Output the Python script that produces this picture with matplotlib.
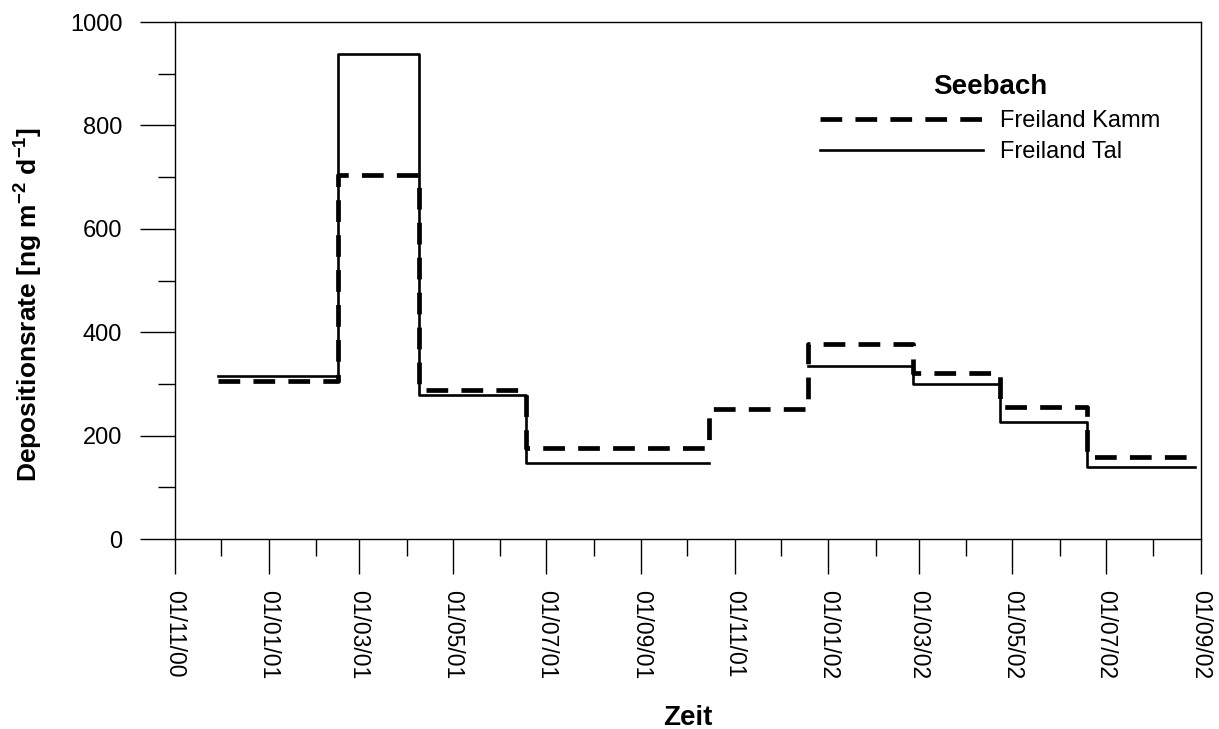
import datetime as dt

import matplotlib
matplotlib.use('Agg')
import matplotlib.pyplot as plt
import matplotlib.dates as mdates
import numpy as np

plt.rcParams['font.family'] = ['Liberation Sans', 'DejaVu Sans']
plt.rcParams['mathtext.fontset'] = 'custom'
plt.rcParams['mathtext.rm'] = 'Liberation Sans'
plt.rcParams['mathtext.bf'] = 'Liberation Sans:bold'

# sampling period boundaries (start of each period, last entry = end)
edges = [
    dt.date(2000, 11, 29), dt.date(2001, 2, 15), dt.date(2001, 4, 9),
    dt.date(2001, 6, 18), dt.date(2001, 10, 15), dt.date(2001, 12, 19),
    dt.date(2002, 2, 25), dt.date(2002, 4, 23), dt.date(2002, 6, 19),
    dt.date(2002, 8, 28),
]
kamm = [305, 705, 289, 176, 252, 377, 321, 255, 159]
tal = [316, 939, 278, 147, np.nan, 334, 299, 226, 140]

fig = plt.figure(figsize=(12.19, 7.29), dpi=100)
ax = fig.add_axes([0.1436, 0.2606, 0.8416, 0.7092])

ax.plot(edges, kamm + [kamm[-1]], drawstyle='steps-post', color='black',
        lw=3.4, dashes=(4.6, 2.8), label='Freiland Kamm')
ax.plot(edges, tal + [tal[-1]], drawstyle='steps-post', color='black',
        lw=1.9, label='Freiland Tal')

ax.set_xlim(dt.date(2000, 11, 1), dt.date(2002, 9, 1))
ax.set_ylim(0, 1000)

ax.xaxis.set_major_locator(mdates.MonthLocator(bymonth=[1, 3, 5, 7, 9, 11]))
ax.xaxis.set_minor_locator(mdates.MonthLocator())
ax.xaxis.set_major_formatter(mdates.DateFormatter('%d/%m/%y'))
ax.yaxis.set_major_locator(plt.MultipleLocator(200))
ax.yaxis.set_minor_locator(plt.MultipleLocator(100))

ax.tick_params(which='major', direction='out', length=25, width=1.0,
               color='black')
ax.tick_params(which='minor', direction='out', length=12.5, width=1.0)
ax.tick_params(axis='x', which='major', pad=11.5, labelsize=16.5)
ax.tick_params(axis='y', which='major', pad=13, labelsize=17)
plt.setp(ax.get_xticklabels(), rotation=270, va='top', ha='center')
for s in ax.spines.values():
    s.set_linewidth(1.0)

ax.set_xlabel('Zeit', fontsize=20, fontweight='bold', labelpad=19)
ax.set_ylabel(r'Depositionsrate [ng m$^{\mathbf{-2}}$ d$^{\mathbf{-1}}$]',
              fontsize=19, fontweight='bold')
ax.yaxis.set_label_coords(-0.1277, 0.453)

leg = ax.legend(loc='upper left', bbox_to_anchor=(0.6727, 0.898),
                bbox_transform=fig.transFigure, frameon=False,
                handlelength=6.9, handletextpad=0.72, labelspacing=0.4,
                borderpad=0, borderaxespad=0, fontsize=17,
                title='Seebach', title_fontproperties={'weight': 'bold', 'size': 20})

fig.savefig('out.png', dpi=100)
